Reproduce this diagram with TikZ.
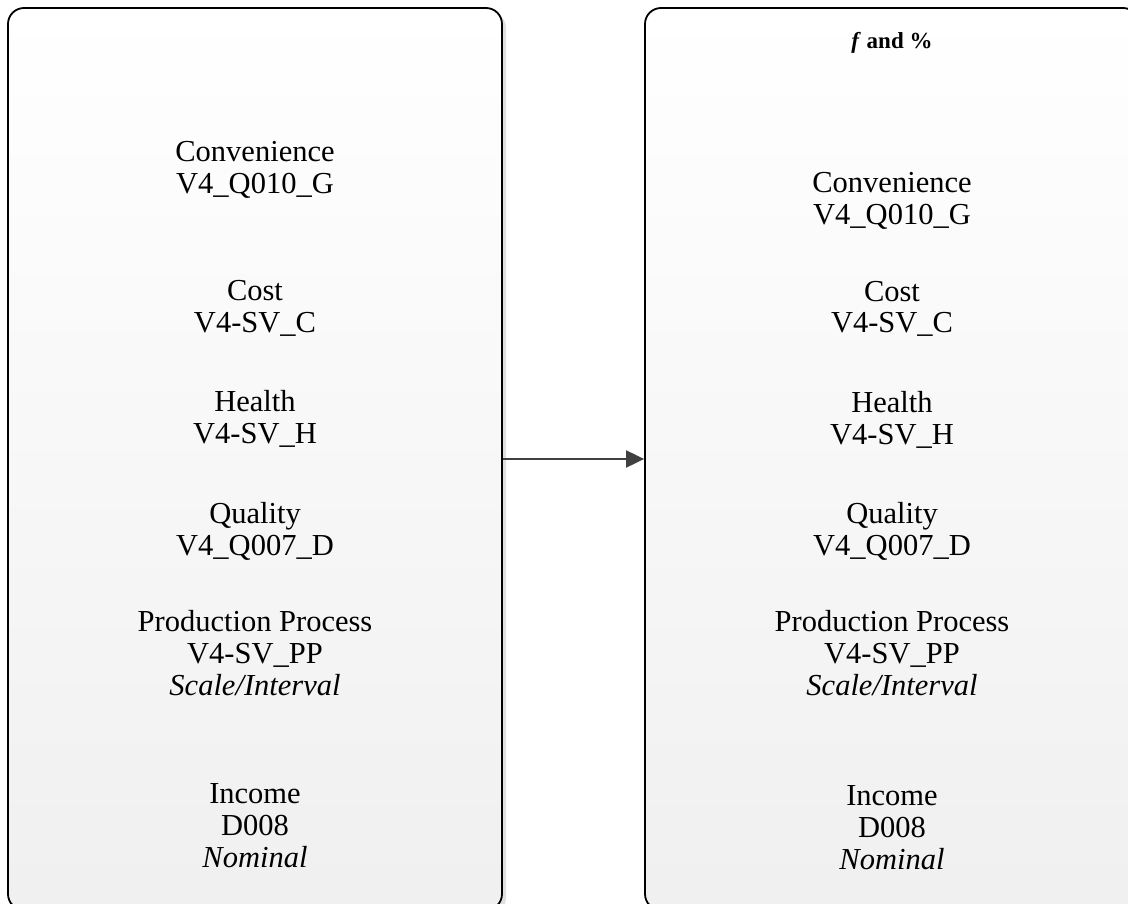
\documentclass[tikz,border=0pt]{standalone}
\usepackage{fontspec}
\setmainfont{Liberation Serif}
\usetikzlibrary{arrows.meta}
\begin{document}
\begin{tikzpicture}[x=1pt,y=-1pt,>={Triangle[length=18pt,width=17pt]}]
  \tikzset{
    panel/.style={draw=black, line width=1.8pt, rounded corners=16pt,
      top color=white, bottom color=black!6, minimum width=494pt, minimum height=902pt, inner sep=0pt},
    item/.style={align=center, anchor=base, inner sep=0pt, font=\fontsize{30.5}{32}\selectfont},
  }
  \useasboundingbox (0,0) rectangle (1128,904);
  \clip (0,0) rectangle (1128,904);

  % 影
  \fill[black!12, rounded corners=16pt] (12,12) rectangle (506,914);

  % 枠
  \node[panel] (src) at (255,459) {};
  \node[panel] (freq) at (892,459) {};

  % 左側の変数 (座標は最終行のベースライン)
  \node[item] (conv1) at (255,194) {Convenience\\V4\_Q010\_G};
  \node[item] (cost1) at (255,332) {Cost\\V4-SV\_C};
  \node[item] (health1) at (255,443) {Health\\V4-SV\_H};
  \node[item] (qual1) at (255,555) {Quality\\V4\_Q007\_D};
  \node[item] (prod1) at (255,695) {Production Process\\V4-SV\_PP\\\textit{Scale/Interval}};
  \node[item] (inc1) at (255,867) {Income\\D008\\\textit{Nominal}};

  % 右側の変数
  \node[anchor=base, inner sep=0pt, font=\fontsize{23}{28}\selectfont\bfseries] (title) at (892,49) {\textit{f} and \%};
  \node[item] (conv2) at (892,225) {Convenience\\V4\_Q010\_G};
  \node[item] (cost2) at (892,333) {Cost\\V4-SV\_C};
  \node[item] (health2) at (892,444) {Health\\V4-SV\_H};
  \node[item] (qual2) at (892,555) {Quality\\V4\_Q007\_D};
  \node[item] (prod2) at (892,695) {Production Process\\V4-SV\_PP\\\textit{Scale/Interval}};
  \node[item] (inc2) at (892,869) {Income\\D008\\\textit{Nominal}};

  % 矢印
  \draw[->, draw=black!75, fill=black!75, line width=2pt] (src.east) -- (freq.west);
\end{tikzpicture}
\end{document}
